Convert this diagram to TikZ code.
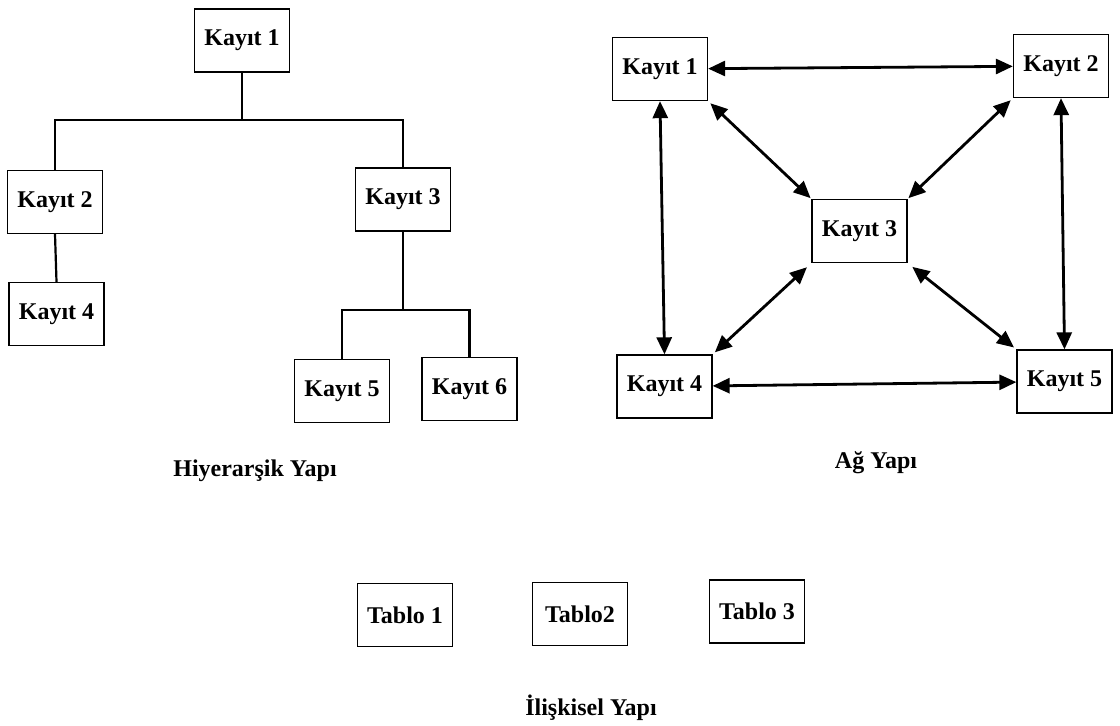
\documentclass[tikz,border=0pt]{standalone}
\usepackage{fontspec}
\setmainfont{Liberation Serif}
\usetikzlibrary{arrows.meta}
\begin{document}
\begin{tikzpicture}[x=1pt,y=-1pt,
  rec/.style={draw,line width=1.3pt,minimum width=95pt,minimum height=63pt,inner sep=0pt,
    font=\fontsize{24}{28}\selectfont\bfseries},
  title/.style={font=\fontsize{24}{28}\selectfont\bfseries},
  tree/.style={line width=2.2pt},
  link/.style={line width=2.8pt,{Triangle[length=17pt,width=15pt]}-{Triangle[length=17pt,width=15pt]}}]
\useasboundingbox (0,0) rectangle (1120,726);

% hierarchical structure
\node[rec] (h1) at (242,40.5) {Kayıt 1};
\node[rec] (h2) at (55,202) {Kayıt 2};
\node[rec] (h3) at (403,199.5) {Kayıt 3};
\node[rec] (h4) at (56.5,314) {Kayıt 4};
\node[rec] (h5) at (342,391) {Kayıt 5};
\node[rec] (h6) at (469.5,389) {Kayıt 6};
\coordinate (bar1) at (242,120);
\coordinate (bar2) at (403,310);
\draw[tree] (h1.south) -- (bar1);
\draw[tree] (h2.north) -- (h2.north |- bar1) -| (h3.north);
\draw[tree] (h2.south) -- (h4.north);
\draw[tree] (h3.south) -- (bar2);
\draw[tree] (h5.north) -- (h5.north |- bar2) -| (h6.north);
\node[title] (lh) at (255,471) {Hiyerarşik Yapı};

% network structure
\node[rec] (n1) at (660,69) {Kayıt 1};
\node[rec] (n2) at (1061,66) {Kayıt 2};
\node[rec] (n3) at (859.5,231) {Kayıt 3};
\node[rec] (n4) at (664.5,386.5) {Kayıt 4};
\node[rec] (n5) at (1064.5,381.5) {Kayıt 5};
\draw[link] (n1) -- (n2);
\draw[link] (n4) -- (n5);
\draw[link] (n1.south) -- (n4.north);
\draw[link] (n2.south) -- (n5.north);
\draw[link,shorten <=3pt,shorten >=1pt] (n1.south east) -- (n3.north west);
\draw[link,shorten <=3pt,shorten >=1pt] (n2.south west) -- (n3.north east);
\draw[link,shorten <=6pt,shorten >=3pt] (n3.south west) -- (n4.north east);
\draw[link,shorten <=6pt,shorten >=3pt] (n3.south east) -- (n5.north west);
\node[title] (ln) at (876,463) {Ağ Yapı};

% relational structure
\node[rec] (t1) at (405,615) {Tablo 1};
\node[rec] (t2) at (580,614) {Tablo2};
\node[rec] (t3) at (757,611.5) {Tablo 3};
\node[title] (lr) at (591,708) {İlişkisel Yapı};
\end{tikzpicture}
\end{document}
